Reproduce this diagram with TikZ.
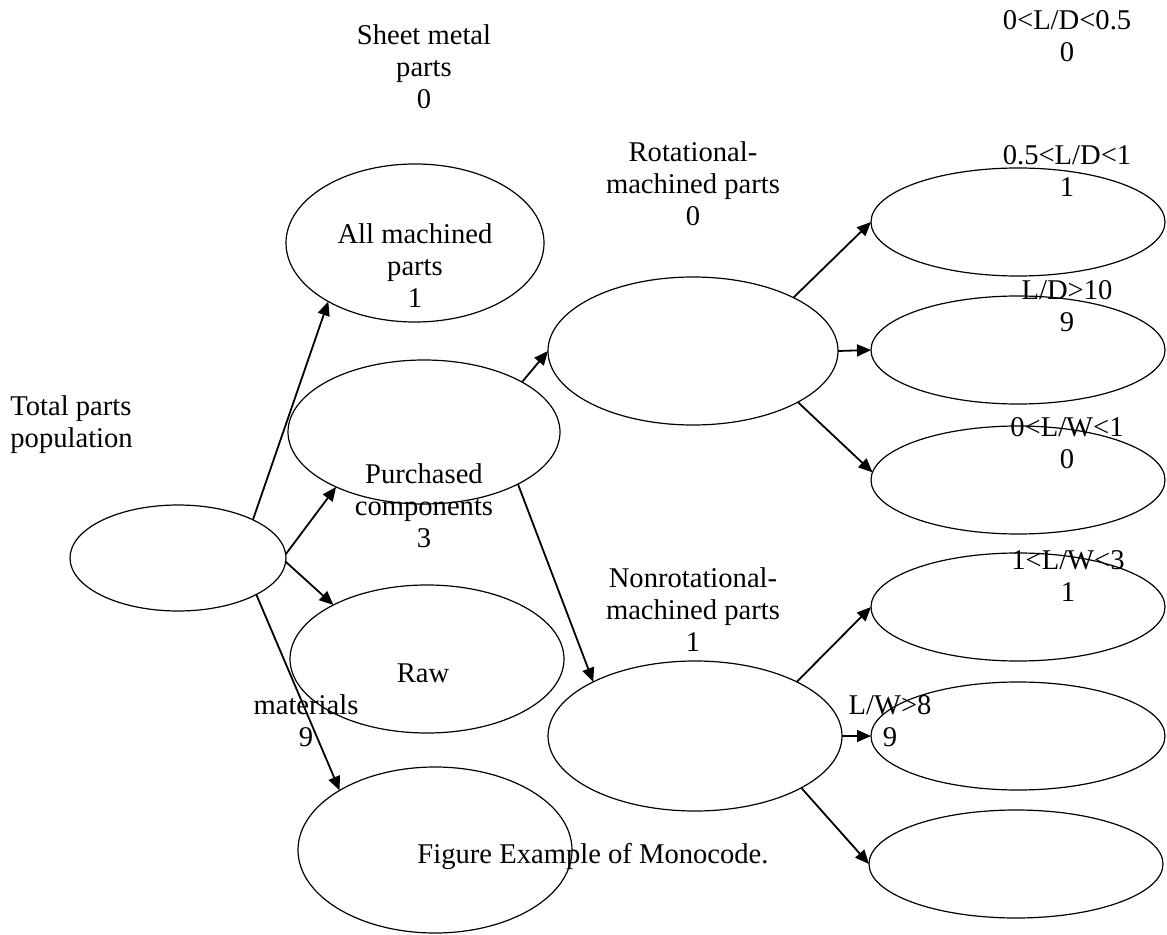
\documentclass[tikz,border=0pt]{standalone}
\usepackage{fontspec}
\setmainfont{Liberation Serif}
\usetikzlibrary{shapes.geometric,arrows.meta}

\begin{document}
\begin{tikzpicture}[x=0.5pt,y=-0.5pt,
  oval/.style 2 args={ellipse,draw,line width=0.6pt,outer sep=0pt,inner sep=0pt,minimum width=#1pt,minimum height=#2pt},
  lbl/.style={font=\fontsize{14.3}{16}\selectfont,align=center,inner sep=0pt},
  link/.style={line width=0.9pt,-{Triangle[length=7pt,width=6pt]}}]
 \useasboundingbox (0,0) rectangle (1167,935);
 % ovals
 \node[oval={108}{53}] (total) at (178,558) {};
 \node[oval={129}{79}] (allmach) at (415,243) {};
 \node[oval={136}{72}] (purch) at (424,432) {};
 \node[oval={137}{74}] (raw) at (427,659) {};
 \node[oval={137}{83}] (rawmat) at (435,850) {};
 \node[oval={145}{74}] (rot) at (693,351) {};
 \node[oval={147}{75}] (nonrot) at (695,736) {};
 \node[oval={147}{54}] (ld1) at (1018,222) {};
 \node[oval={147}{54}] (ld2) at (1018,350) {};
 \node[oval={147}{54}] (lw1) at (1018,480) {};
 \node[oval={147}{54}] (lw2) at (1018,607) {};
 \node[oval={147}{54}] (lw3) at (1018,736) {};
 \node[oval={147}{54}] (lw4) at (1016,864) {};
 % texts
 \node[lbl] (sheettxt) at (424,67) {Sheet metal\\parts\\0};
 \node[lbl] (ld0txt) at (1067,36) {0<L/D<0.5\\0};
 \node[lbl] (rottxt) at (693,184) {Rotational-\\machined parts\\0};
 \node[lbl] (ld1txt) at (1067,171) {0.5<L/D<1\\1};
 \node[lbl] (allmtxt) at (415,266) {All machined\\parts\\1};
 \node[lbl] (ld2txt) at (1067,306) {L/D>10\\9};
 \node[lbl,anchor=west,align=left] (totaltxt) at (10,425) {Total parts\\population};
 \node[lbl] (purchtxt) at (424,506) {Purchased\\components\\3};
 \node[lbl] (lw1txt) at (1067,443) {0<L/W<1\\0};
 \node[lbl] (lw2txt) at (1068,576) {1<L/W<3\\1};
 \node[lbl] (nonrottxt) at (693,610) {Nonrotational-\\machined parts\\1};
 \node[lbl] (rawtxt) at (423,673) {Raw};
 \node[lbl] (mattxt) at (306,721) {materials\\9};
 \node[lbl] (lw3txt) at (890,721) {L/W>8\\9};
 \node[lbl] (captxt) at (593,857) {Figure Example of Monocode.};
 % arrows
 \draw[link] (total.27) -- (allmach.214);
 \draw[link] (total.2) -- (purch.212);
 \draw[link] (total.-2) -- (raw.150);
 \draw[link] (total.-25) -- (rawmat.148);
 \draw[link] (purch.27) -- (rot.west);
 \draw[link] (purch.331) -- (nonrot.152);
 \draw[link] (rot.28) -- (ld1.west);
 \draw[link] (rot.east) -- (ld2.west);
 \draw[link] (rot.334) -- (lw1.177);
 \draw[link] (nonrot.28) -- (lw2.west);
 \draw[link] (nonrot.east) -- (lw3.west);
 \draw[link] (nonrot.334) -- (lw4.west);
\end{tikzpicture}
\end{document}
